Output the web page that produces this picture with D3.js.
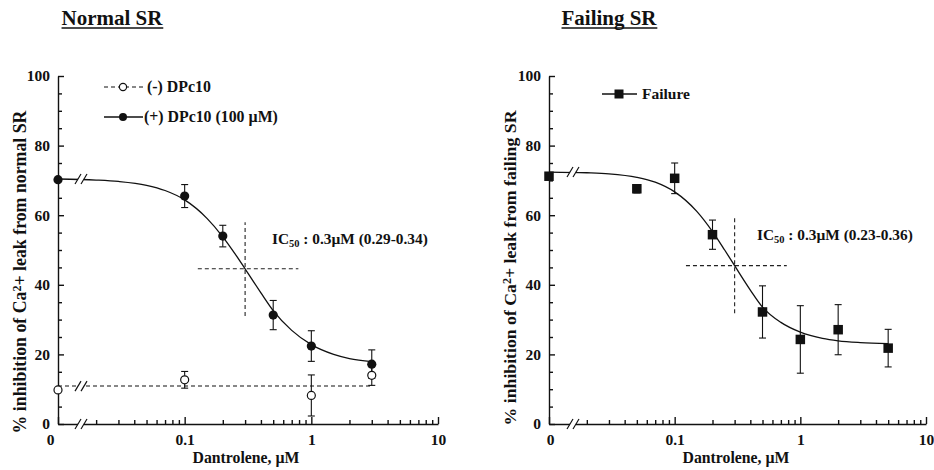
<!DOCTYPE html>
<html>
<head>
<meta charset="utf-8">
<script src="https://cdn.jsdelivr.net/npm/d3@7"></script>
<style>
  html, body { margin: 0; padding: 0; background: #fff; }
  svg { display: block; }
</style>
</head>
<body>
<svg id="chart" width="934" height="470"></svg>
<script>
// ---------- data ----------
const xTickValues = [0, 0.1, 1, 10];
const xTickLabels = ["0", "0.1", "1", "10"];
const xMinorTicks = [0.02,0.03,0.04,0.05,0.06,0.07,0.08,0.09,0.2,0.3,0.4,0.5,0.6,0.7,0.8,0.9,2,3,4,5,6,7,8,9];
const yTickValues = [0, 20, 40, 60, 80, 100];
const yMinorTicks = [5,10,15,25,30,35,45,50,55,65,70,75,85,90,95];

// Normal SR, (+) DPc10 (100 µM)
const plusDose = [0, 0.1, 0.2, 0.5, 1, 3];
const plusMean = [70.2, 65.5, 54.0, 31.3, 22.4, 17.2];
const plusErr  = [0, 3.3, 3.1, 4.2, 4.4, 4.1];
// Normal SR, (-) DPc10
const minusDose = [0, 0.1, 1, 3];
const minusMean = [9.8, 12.7, 8.2, 14.0];
const minusErr  = [0, 2.4, 5.9, 2.9];
const minusLevelDose = [0, 3];
const minusLevel = [10.9, 10.9];
// Normal SR fitted curve
const normalCurveDose = [0, 0.02, 0.03, 0.05, 0.07, 0.1, 0.15, 0.2, 0.25, 0.3, 0.4, 0.5, 0.7, 1, 1.5, 2, 3];
const normalCurveVal  = [70.4, 70.1, 69.7, 68.6, 67.1, 64.4, 59.1, 53.8, 48.9, 44.6, 37.7, 32.6, 26.9, 22.8, 20.0, 18.8, 17.9];

// Failing SR
const failDose = [0, 0.05, 0.1, 0.2, 0.5, 1, 2, 5];
const failMean = [71.2, 67.6, 70.6, 54.4, 32.2, 24.3, 27.1, 21.8];
const failErr  = [0, 1.2, 4.4, 4.2, 7.5, 9.7, 7.2, 5.4];
const failCurveDose = [0, 0.02, 0.03, 0.05, 0.07, 0.1, 0.15, 0.2, 0.25, 0.3, 0.4, 0.5, 0.7, 1, 1.5, 2, 3, 5];
const failCurveVal  = [72.4, 72.2, 71.9, 70.9, 69.5, 66.7, 61.1, 55.3, 50.0, 45.5, 38.5, 33.6, 29.2, 26.4, 24.6, 23.9, 23.4, 23.1];

// IC50 crosshairs
const normalIC = { dose: 0.3, val: 44.6, hDose: [0.127, 0.79], vVal: [31, 58], label: "0.3µM (0.29-0.34)" };
const failIC   = { dose: 0.3, val: 45.5, hDose: [0.123, 0.78], vVal: [31.8, 59.1], label: "0.3µM (0.23-0.36)" };

// ---------- drawing ----------
const FONT = "Liberation Serif";
const svg = d3.select("#chart");
const ZERO_POS = 0.01; // "0" is drawn at the 0.01 position of the log axis
const zx = d => d === 0 ? ZERO_POS : d;

function txt(sel) {
  return sel.attr("font-family", FONT).style("font-family", FONT).attr("font-weight", "bold").style("font-weight", "bold").attr("fill", "#111");
}
// scale a text's font size so that it spans the width measured on the reference
function fit(sel, target) {
  const w = sel.node().getComputedTextLength();
  const fs = parseFloat(sel.style("font-size"));
  if (w > 0) sel.style("font-size", (fs * target / w) + "px");
  return sel;
}

function panel(cfg) {
  const g = svg.append("g");
  const x = d3.scaleLog().domain([ZERO_POS, 10]).range(cfg.xr);
  const y = d3.scaleLinear().domain([0, 100]).range([424, 76]);
  const X = d => x(zx(d));

  // title
  const t = fit(txt(g.append("text")).attr("x", cfg.titleX).attr("y", 25).attr("text-anchor", "middle")
    .style("font-size", "21px").text(cfg.title), cfg.titleW);
  const bb = t.node().getBBox();
  g.append("line").attr("x1", bb.x).attr("x2", bb.x + bb.width).attr("y1", 28).attr("y2", 28)
    .attr("stroke", "#111").attr("stroke-width", 1.4);

  // axes
  const xAxis = d3.axisBottom(x).tickValues(xTickValues.map(zx)).tickSizeInner(-7).tickSizeOuter(0)
    .tickPadding(10).tickFormat((d, i) => xTickLabels[i]);
  const xAx = g.append("g").attr("transform", "translate(0,424)").call(xAxis);
  g.append("g").attr("transform", "translate(0,424)")
    .call(d3.axisBottom(x).tickValues(xMinorTicks).tickSizeInner(-4).tickSizeOuter(0).tickFormat(""))
    .select(".domain").remove();
  txt(xAx.selectAll("text")).style("font-size", "15.5px")
    .attr("dx", (d, i) => i === 0 ? cfg.zeroDx : 0);

  const yAx = g.append("g").attr("transform", `translate(${cfg.xr[0]},0)`)
    .call(d3.axisLeft(y).tickValues(yTickValues).tickSizeInner(-6).tickSizeOuter(0).tickPadding(8));
  g.append("g").attr("transform", `translate(${cfg.xr[0]},0)`)
    .call(d3.axisLeft(y).tickValues(yMinorTicks).tickSizeInner(-4).tickSizeOuter(0).tickFormat(""))
    .select(".domain").remove();
  txt(yAx.selectAll("text")).style("font-size", "15.5px");
  g.selectAll(".domain, .tick line").attr("stroke", "#111").attr("stroke-width", 1.4);

  // axis labels
  fit(txt(g.append("text")).attr("x", cfg.xLabelX).attr("y", 463).attr("text-anchor", "middle")
    .style("font-size", "16px").text("Dantrolene, µM"), 107);
  const yl = txt(g.append("text")).attr("transform", `translate(${cfg.yLabelX},${cfg.yLabelY}) rotate(-90)`)
    .attr("text-anchor", "middle").style("font-size", "16px");
  yl.append("tspan").text("% inhibition of Ca");
  yl.append("tspan").attr("dy", "-0.38em").style("font-size", "0.68em").text("2");
  yl.append("tspan").attr("dy", "0.26em").text("+ leak from " + cfg.yWord + " SR");
  fit(yl, cfg.yLabelW);

  // IC50 crosshair
  const ic = cfg.ic;
  g.append("line").attr("x1", x(ic.hDose[0])).attr("x2", x(ic.hDose[1])).attr("y1", y(ic.val)).attr("y2", y(ic.val))
    .attr("stroke", "#222").attr("stroke-width", 1.1).attr("stroke-dasharray", "4,3");
  g.append("line").attr("x1", x(ic.dose)).attr("x2", x(ic.dose)).attr("y1", y(ic.vVal[0])).attr("y2", y(ic.vVal[1]))
    .attr("stroke", "#222").attr("stroke-width", 1.1).attr("stroke-dasharray", "4,3");
  const it = txt(g.append("text")).attr("x", cfg.icX).attr("y", cfg.icY).style("font-size", "16px");
  it.append("tspan").text("IC");
  it.append("tspan").attr("dy", "0.25em").style("font-size", "0.68em").text("50");
  it.append("tspan").attr("dy", "-0.17em").text(" : " + ic.label);
  fit(it, 156);

  return { g, x, y, X };
}

function breakMark(g, cx, cy) {
  g.append("rect").attr("x", cx - 3).attr("y", cy - 6).attr("width", 6).attr("height", 12).attr("fill", "#fff");
  [-3, 3].forEach(o => {
    g.append("line").attr("x1", cx + o - 3).attr("y1", cy + 5).attr("x2", cx + o + 3).attr("y2", cy - 5)
      .attr("stroke", "#111").attr("stroke-width", 1.2);
  });
}

function errorBars(g, X, y, dose, mean, err) {
  dose.forEach((d, i) => {
    if (!err[i]) return;
    const cx = X(d), y1 = y(mean[i] - err[i]), y2 = y(mean[i] + err[i]);
    g.append("line").attr("x1", cx).attr("x2", cx).attr("y1", y1).attr("y2", y2).attr("stroke", "#111").attr("stroke-width", 1.1);
    [y1, y2].forEach(yy => g.append("line").attr("x1", cx - 3.5).attr("x2", cx + 3.5).attr("y1", yy).attr("y2", yy)
      .attr("stroke", "#111").attr("stroke-width", 1.1));
  });
}

// ---- Normal SR ----
const L = panel({ title: "Normal SR", titleX: 112, titleW: 101, xr: [58, 438], zeroDx: -8, xLabelX: 246,
  yLabelX: 26, yLabelY: 272, yLabelW: 323, yWord: "normal", ic: normalIC, icX: 272, icY: 244 });
{
  const { g, x, y, X } = L;
  const line = d3.line().x(d => X(d[0])).y(d => y(d[1])).curve(d3.curveMonotoneX);
  g.append("path").attr("d", line(normalCurveDose.map((d, i) => [d, normalCurveVal[i]])))
    .attr("fill", "none").attr("stroke", "#111").attr("stroke-width", 1.3);
  g.append("path").attr("d", d3.line().x(d => X(d[0])).y(d => y(d[1]))(minusLevelDose.map((d, i) => [d, minusLevel[i]])))
    .attr("fill", "none").attr("stroke", "#111").attr("stroke-width", 1.1).attr("stroke-dasharray", "4,3");
  errorBars(g, X, y, plusDose, plusMean, plusErr);
  errorBars(g, X, y, minusDose, minusMean, minusErr);
  breakMark(g, 81, y(normalCurveVal[0]));
  breakMark(g, 81, y(minusLevel[0]));
  breakMark(g, 81, 424);
  g.selectAll(null).data(minusDose).enter().append("circle")
    .attr("cx", d => X(d)).attr("cy", (d, i) => y(minusMean[i])).attr("r", 4)
    .attr("fill", "#fff").attr("stroke", "#111").attr("stroke-width", 1.2);
  g.selectAll(null).data(plusDose).enter().append("circle")
    .attr("cx", d => X(d)).attr("cy", (d, i) => y(plusMean[i])).attr("r", 4.6).attr("fill", "#111");
  // legend
  g.append("line").attr("x1", 104).attr("x2", 143).attr("y1", 87).attr("y2", 87)
    .attr("stroke", "#111").attr("stroke-width", 1.1).attr("stroke-dasharray", "4,3");
  g.append("circle").attr("cx", 123).attr("cy", 87).attr("r", 3.6).attr("fill", "#fff").attr("stroke", "#111").attr("stroke-width", 1.2);
  fit(txt(g.append("text")).attr("x", 147).attr("y", 92).style("font-size", "16px").text("(-) DPc10"), 64);
  g.append("line").attr("x1", 104).attr("x2", 143).attr("y1", 117).attr("y2", 117).attr("stroke", "#111").attr("stroke-width", 1.3);
  g.append("circle").attr("cx", 123).attr("cy", 117).attr("r", 4).attr("fill", "#111");
  fit(txt(g.append("text")).attr("x", 144).attr("y", 122).style("font-size", "16px").text("(+) DPc10 (100 µM)"), 134);
}

// ---- Failing SR ----
const R = panel({ title: "Failing SR", titleX: 609, titleW: 95, xr: [549, 926], zeroDx: 1, xLabelX: 736,
  yLabelX: 516, yLabelY: 268, yLabelW: 315, yWord: "failing", ic: failIC, icX: 757, icY: 240 });
{
  const { g, x, y, X } = R;
  const line = d3.line().x(d => X(d[0])).y(d => y(d[1])).curve(d3.curveMonotoneX);
  g.append("path").attr("d", line(failCurveDose.map((d, i) => [d, failCurveVal[i]])))
    .attr("fill", "none").attr("stroke", "#111").attr("stroke-width", 1.3);
  errorBars(g, X, y, failDose, failMean, failErr);
  breakMark(g, 573, y(failCurveVal[0]));
  breakMark(g, 573, 424);
  const s = 9.5;
  g.selectAll(null).data(failDose).enter().append("rect")
    .attr("x", d => X(d) - s / 2).attr("y", (d, i) => y(failMean[i]) - s / 2).attr("width", s).attr("height", s).attr("fill", "#111");
  // legend
  g.append("line").attr("x1", 602).attr("x2", 637).attr("y1", 94).attr("y2", 94).attr("stroke", "#111").attr("stroke-width", 1.3);
  g.append("rect").attr("x", 619 - 4.5).attr("y", 94 - 4.5).attr("width", 9).attr("height", 9).attr("fill", "#111");
  fit(txt(g.append("text")).attr("x", 642).attr("y", 99).style("font-size", "16px").text("Failure"), 48);
}
</script>
</body>
</html>
